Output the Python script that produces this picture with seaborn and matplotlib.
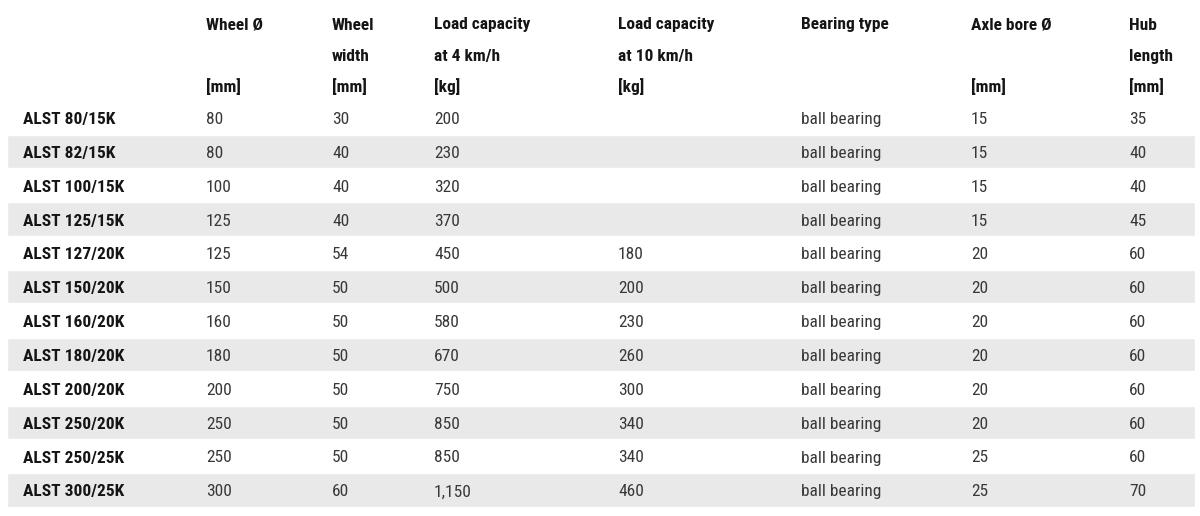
import matplotlib.pyplot as plt
import numpy as np
import seaborn as sns

sns.set_style("white")
plt.rcParams['font.family'] = ['Liberation Sans Narrow', 'Roboto Condensed', 'Roboto', 'DejaVu Sans']

# table data
headers = [
    ["", "", ""],
    ["Wheel Ø", "", "[mm]"],
    ["Wheel", "width", "[mm]"],
    ["Load capacity", "at 4 km/h", "[kg]"],
    ["Load capacity", "at 10 km/h", "[kg]"],
    ["Bearing type", "", ""],
    ["Axle bore Ø", "", "[mm]"],
    ["Hub", "length", "[mm]"],
]
models = ["ALST 80/15K", "ALST 82/15K", "ALST 100/15K", "ALST 125/15K",
          "ALST 127/20K", "ALST 150/20K", "ALST 160/20K", "ALST 180/20K",
          "ALST 200/20K", "ALST 250/20K", "ALST 250/25K", "ALST 300/25K"]
wheel_d = [80, 80, 100, 125, 125, 150, 160, 180, 200, 250, 250, 300]
wheel_w = [30, 40, 40, 40, 54, 50, 50, 50, 50, 50, 50, 60]
load_4 = [200, 230, 320, 370, 450, 500, 580, 670, 750, 850, 850, 1150]
load_10 = [None, None, None, None, 180, 200, 230, 260, 300, 340, 340, 460]
bearing = ["ball bearing"] * 12
axle = [15, 15, 15, 15, 20, 20, 20, 20, 20, 20, 25, 25]
hub = [35, 40, 40, 45, 60, 60, 60, 60, 60, 60, 60, 70]

def fmt(v):
    if v is None:
        return ""
    if isinstance(v, str):
        return v
    return f"{v:,}"

columns = [models, wheel_d, wheel_w, load_4, load_10, bearing, axle, hub]

# layout (pixels)
col_x = [23, 206, 332, 434, 618, 801, 971, 1129]
head_y = [29.5, 61, 92]
row0 = 124
row_step = 33.85

fig = plt.figure(figsize=(12, 5.16), dpi=100)
ax = fig.add_axes([0, 0, 1, 1])
ax.set_xlim(0, 1200)
ax.set_ylim(516, 0)
ax.axis('off')

n = len(models)
base = row0 + row_step * np.arange(n)
shaded = np.arange(n) % 2 == 1
ax.barh(base[shaded] - 6.5, 1188, left=7, height=33.3, color='#e9e9e9', zorder=0)

fs = 12.5
for c, head in enumerate(headers):
    for k, line in enumerate(head):
        if line:
            ax.text(col_x[c], head_y[k], line, fontsize=fs, fontweight='bold',
                    fontstretch='condensed', color='#151515', va='baseline', ha='left')

for c, col in enumerate(columns):
    for i, v in enumerate(col):
        s = fmt(v)
        if not s:
            continue
        if c == 0:
            ax.text(col_x[c], base[i], s, fontsize=fs, fontweight='bold',
                    fontstretch='condensed', color='#151515', va='baseline', ha='left')
        else:
            ax.text(col_x[c], base[i], s, fontsize=fs, fontstretch='condensed',
                    color='#383838', va='baseline', ha='left')

fig.savefig('out.png', dpi=100)
